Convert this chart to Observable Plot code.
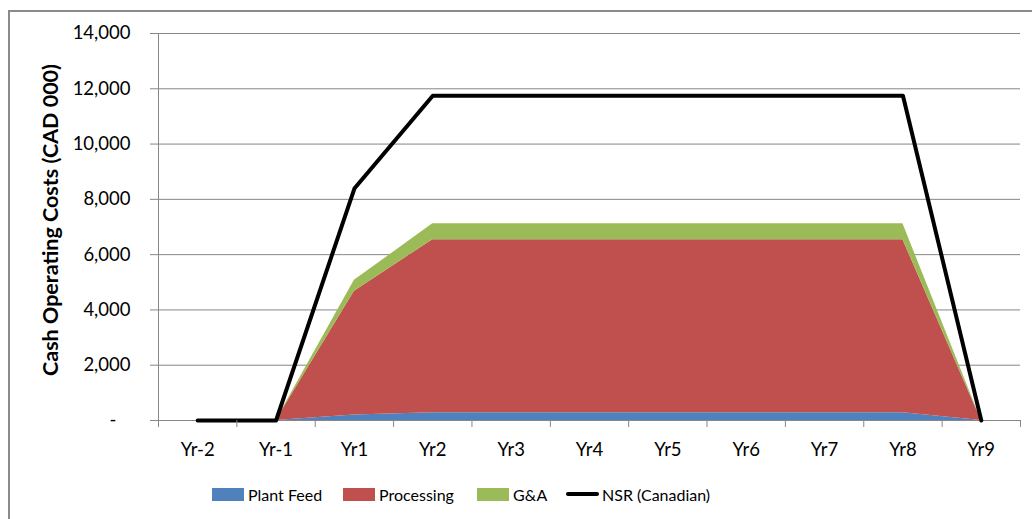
<!DOCTYPE html>
<html>
<head>
<meta charset="utf-8">
<script src="https://cdn.jsdelivr.net/npm/d3@7"></script>
<script src="https://cdn.jsdelivr.net/npm/@observablehq/plot@0.6"></script>
<style>
  html, body { margin: 0; padding: 0; overflow: hidden; background: #fff; width: 1032px; height: 519px; }
  #frame { position: absolute; left: 8px; top: 10px; width: 1100px; height: 600px; border: 2px solid #8a8a8a; box-sizing: border-box; }
  #chart { position: absolute; left: 0; top: 0; }
  #chart g[aria-label$="tick label"] text { font-size: 18.5px !important; font-family: Lato, sans-serif; fill: #000; }
  .item { position: absolute; top: 484px; height: 20px; display: flex; align-items: center; font-family: Lato, sans-serif; font-size: 16px; color: #000; white-space: nowrap; }
  .swatch { width: 32px; height: 13px; margin-right: 4px; }
  .lineSwatch { width: 33px; height: 4px; background: #000; margin-right: 3px; border-radius: 2px; }
</style>
</head>
<body>
<div id="frame"></div>
<div id="chart"></div>
<div id="legend"></div>
<script>
// Periods along the x axis
const years = ["Yr-2", "Yr-1", "Yr1", "Yr2", "Yr3", "Yr4", "Yr5", "Yr6", "Yr7", "Yr8", "Yr9"];

// Cash operating costs by component (CAD 000), stacked
const plantFeed  = [0, 0, 200, 280, 280, 280, 280, 280, 280, 280, 0];
const processing = [0, 0, 4480, 6260, 6260, 6260, 6260, 6260, 6260, 6260, 0];
const gAndA      = [0, 0, 390, 575, 575, 575, 575, 575, 575, 575, 0];

// Net smelter return (Canadian), CAD 000
const nsr = [0, 0, 8390, 11750, 11750, 11750, 11750, 11750, 11750, 11750, 0];

const seriesNames = ["Plant Feed", "Processing", "G&A"];
const seriesColors = ["#4F81BD", "#C0504D", "#9BBB59"];
const lineName = "NSR (Canadian)";
const yTicks = [0, 2000, 4000, 6000, 8000, 10000, 12000, 14000];
const yTitle = "Cash Operating Costs (CAD 000)";

const costs = [plantFeed, processing, gAndA].flatMap((vals, s) =>
  vals.map((v, i) => ({i, series: seriesNames[s], value: v}))
);
const nsrData = nsr.map((v, i) => ({i, value: v}));

const gray = "#868686";
const fmt = d3.format(",");

const chart = Plot.plot({
  width: 1032,
  height: 470,
  marginTop: 33,
  marginBottom: 50,
  marginLeft: 158,
  marginRight: 12,
  style: {fontFamily: "Lato, sans-serif", fontSize: "18px", color: "#000", background: "transparent", overflow: "visible"},
  x: {domain: [-0.5, years.length - 0.5]},
  y: {domain: [0, 14000]},
  color: {domain: seriesNames, range: seriesColors},
  marks: [
    Plot.gridY(yTicks.filter(d => d > 0), {stroke: gray, strokeOpacity: 1}),
    Plot.areaY(costs, {x: "i", y: "value", fill: "series"}),
    Plot.ruleY([0], {stroke: gray}),
    Plot.ruleX([-0.5], {stroke: gray}),
    Plot.lineY(nsrData, {x: "i", y: "value", stroke: "#000", strokeWidth: 4}),
    Plot.axisY(yTicks, {
      tickSize: 8, tickPadding: 20, stroke: gray, label: null, fontSize: 18.5, fill: "#000",
      tickFormat: d => d === 0 ? "-\u00a0\u00a0\u00a0" : fmt(d)
    }),
    Plot.axisX(d3.range(-0.5, years.length, 1), {tickSize: 7, tickFormat: () => "", stroke: gray, label: null}),
    Plot.axisX(d3.range(years.length), {
      tickSize: 0, tickPadding: 22, label: null, fontSize: 18.5, fill: "#000",
      tickFormat: i => years[i]
    }),
    Plot.text([yTitle], {
      frameAnchor: "left", textAnchor: "middle", lineAnchor: "middle",
      rotate: -90, dx: -107, dy: -7,
      fontWeight: "bold", fontSize: 21.5, fill: "#000"
    })
  ]
});
document.getElementById("chart").appendChild(chart);

// Legend below the plot
const legend = document.getElementById("legend");
const itemLeft = [212, 343, 477, 566];
seriesNames.forEach((name, k) => {
  const item = document.createElement("div");
  item.className = "item";
  item.style.left = itemLeft[k] + "px";
  item.innerHTML = `<div class="swatch" style="background:${seriesColors[k]}"></div><span></span>`;
  item.querySelector("span").textContent = name;
  legend.appendChild(item);
});
const lineItem = document.createElement("div");
lineItem.className = "item";
lineItem.style.left = itemLeft[3] + "px";
lineItem.innerHTML = `<div class="lineSwatch"></div><span></span>`;
lineItem.querySelector("span").textContent = lineName;
legend.appendChild(lineItem);
</script>
</body>
</html>
